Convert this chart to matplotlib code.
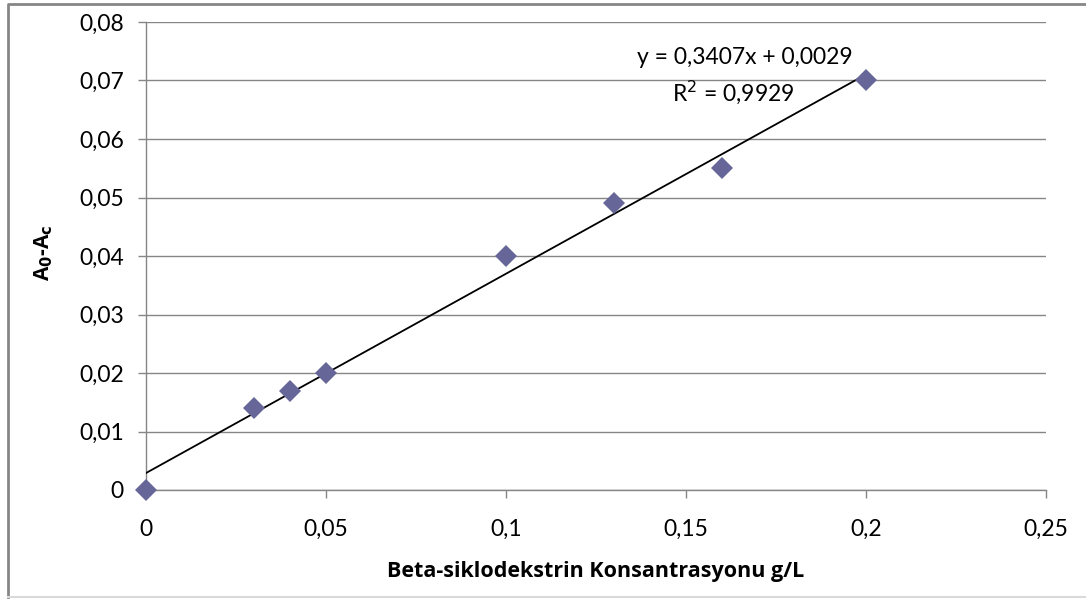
import matplotlib.pyplot as plt
from matplotlib.lines import Line2D
from matplotlib.ticker import FuncFormatter, MultipleLocator

plt.rcParams['font.family'] = ['Lato', 'DejaVu Sans']

# konsantrasyon (g/L) ve absorbans farki
konsantrasyon = [0.0, 0.03, 0.04, 0.05, 0.10, 0.13, 0.16, 0.20]
absorbans = [0.0, 0.014, 0.017, 0.020, 0.040, 0.049, 0.055, 0.070]
egim = 0.3407
kesisim = 0.0029
r2 = 0.9929

def virgul(v, pos):
    s = ('%.2f' % v).rstrip('0').rstrip('.')
    return s.replace('.', ',')

fig = plt.figure(figsize=(10.86, 5.99), dpi=100)
ax = fig.add_axes([146 / 1086, 1 - 490 / 599, 900 / 1086, 468 / 599])

gri = '#868686'
ax.set_xlim(0, 0.25)
ax.set_ylim(0, 0.08)
ax.xaxis.set_major_locator(MultipleLocator(0.05))
ax.yaxis.set_major_locator(MultipleLocator(0.01))
ax.xaxis.set_major_formatter(FuncFormatter(virgul))
ax.yaxis.set_major_formatter(FuncFormatter(virgul))
ax.grid(axis='y', color=gri, lw=1)
ax.set_axisbelow(True)
for s in ['top', 'right']:
    ax.spines[s].set_visible(False)
for s in ['left', 'bottom']:
    ax.spines[s].set_color(gri)
    ax.spines[s].set_linewidth(1)
ax.tick_params(colors=gri, labelcolor='black', labelsize=16.5, length=6, width=1)
ax.tick_params(axis='x', pad=15)
ax.tick_params(axis='y', pad=10)

# trend cizgisi
xs = [min(konsantrasyon), max(konsantrasyon)]
ax.plot(xs, [egim * x + kesisim for x in xs], color='black', lw=1.3, zorder=3)
ax.plot(konsantrasyon, absorbans, 'D', color='#666699', markersize=11,
        markeredgewidth=0, clip_on=False, zorder=4)

ax.text(0.1664, 0.0740, 'y = %sx + %s' % (('%.4f' % egim).replace('.', ','),
                                           ('%.4f' % kesisim).replace('.', ',')),
        ha='center', va='center', fontsize=16.5)
ax.text(0.163, 0.068, 'R$^2$ = %s' % ('%.4f' % r2).replace('.', ','),
        ha='center', va='center', fontsize=16.5)

fig.text(596 / 1086, 1 - 572 / 599, 'Beta-siklodekstrin Konsantrasyonu g/L',
         fontsize=15.5, fontweight='bold', family='Open Sans',
         ha='center', va='center')
fig.text(44 / 1086, 1 - 253 / 599, 'A$_\\mathbf{0}$-A$_\\mathbf{c}$',
         fontsize=15, fontweight='bold', family='Open Sans', rotation=90,
         ha='center', va='center')

# dis cerceve
fig.lines.append(Line2D([8 / 1086, 8 / 1086, 1], [1 - 597 / 599, 1 - 4 / 599, 1 - 4 / 599],
                        transform=fig.transFigure, color=gri, lw=2))
fig.lines.append(Line2D([8 / 1086, 1], [1 - 597 / 599, 1 - 597 / 599],
                        transform=fig.transFigure, color='#d9d9d9', lw=1.5))

fig.savefig('out.png', dpi=100)
